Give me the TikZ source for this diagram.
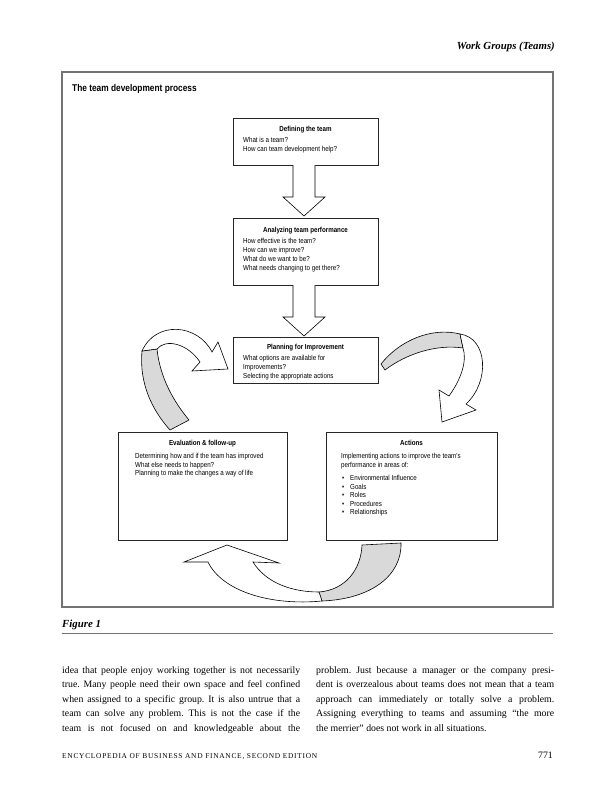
\documentclass[tikz,border=0pt]{standalone}
\usepackage{fontspec}
\setmainfont{Liberation Serif}
\newfontfamily\cond[FakeStretch=0.85]{Liberation Sans}
\newfontfamily\footfont[LetterSpace=10]{Liberation Serif}
\definecolor{framegray}{gray}{0.45}
\definecolor{bandgray}{gray}{0.85}
\frenchspacing
\begin{document}
\begin{tikzpicture}[x=1pt,y=-1pt,
  box/.style={draw=black!85, line width=0.9pt, anchor=north west, inner sep=0pt},
  ttl/.style={font=\cond\bfseries\fontsize{7.3}{9}\selectfont, anchor=base, inner sep=0pt},
  txt/.style={font=\cond\fontsize{7.3}{9}\selectfont, anchor=base west, inner sep=0pt},
  blk/.style={draw=black, line width=0.6pt, fill=white, line join=miter},
  band/.style={draw=black, line width=0.6pt, fill=bandgray},
  body/.style={anchor=north west, inner sep=0pt, font=\fontsize{9.8}{14.5}\selectfont}]
\useasboundingbox (0,0) rectangle (610,800);
\fill[white] (0,0) rectangle (610,800);

% header
\node[anchor=base east, inner sep=0pt, font=\bfseries\itshape\fontsize{10.8}{12}\selectfont] (hdr) at (555,49) {Work Groups (Teams)};

% frame
\draw[framegray, line width=1.2pt] (62,72) rectangle (553,607);
\node[anchor=base west, inner sep=0pt, font=\cond\bfseries\fontsize{9.8}{11}\selectfont] (title) at (72,92) {The team development process};

% boxes
\node[box, minimum width=145pt, minimum height=47pt] (b1) at (233,118) {};
\node[box, minimum width=145pt, minimum height=67pt] (b2) at (233,218) {};
\node[box, minimum width=145pt, minimum height=46pt] (b3) at (233,337) {};
\node[box, minimum width=169pt, minimum height=108pt] (bl) at (118,432) {};
\node[box, minimum width=171pt, minimum height=108pt] (br) at (326,432) {};

% box 1 text
\node[ttl] (t1) at (305.5,131) {Defining the team};
\node[txt] (t1a) at (243,142) {What is a team?};
\node[txt] (t1b) at (243,151.5) {How can team development help?};
% box 2 text
\node[ttl] (t2) at (305.5,232) {Analyzing team performance};
\node[txt] (t2a) at (243,243) {How effective is the team?};
\node[txt] (t2b) at (243,252) {How can we improve?};
\node[txt] (t2c) at (243,261) {What do we want to be?};
\node[txt] (t2d) at (243,270) {What needs changing to get there?};
% box 3 text
\node[ttl] (t3) at (305.5,349) {Planning for Improvement};
\node[txt] (t3a) at (243,360) {What options are available for};
\node[txt] (t3b) at (243,369) {Improvements?};
\node[txt] (t3c) at (243,378) {Selecting the appropriate actions};
% left box text
\node[ttl] (tl) at (202.5,445) {Evaluation \& follow-up};
\node[txt] (tla) at (135,458) {Determining how and if the team has improved};
\node[txt] (tlb) at (135,467) {What else needs to happen?};
\node[txt] (tlc) at (135,475.5) {Planning to make the changes a way of life};
% right box text
\node[ttl] (tr) at (411.5,445) {Actions};
\node[txt] (tra) at (341,458) {Implementing actions to improve the team's};
\node[txt] (trb) at (341,467) {performance in areas of:};
\foreach \y/\w [count=\i] in {480/Environmental Influence,489/Goals,497.5/Roles,506/Procedures,514.5/Relationships}{
  \node[txt] (bu\i) at (342,\y) {\textbullet};
  \node[txt] (bt\i) at (350,\y) {\w};
}

% straight block arrows
\draw[blk] (293,165) -- (293,197) -- (283,197) -- (304,216) -- (325,197) -- (315,197) -- (315,165);
\draw[blk] (293,285) -- (293,317) -- (283,317) -- (304,336) -- (325,317) -- (315,317) -- (315,285);

% left curved arrow (evaluation -> planning)
\draw[band] (142,351) .. controls (139,383) and (152,410) .. (170,430) -- (189,420)
   .. controls (174,402) and (160,378) .. (157,349) -- cycle;
\draw[blk] (142,351) .. controls (156,320) and (198,324) .. (212,352) -- (218,342) -- (228,369)
   -- (192,371) -- (200,362) .. controls (188,344) and (166,338) .. (157,349) -- cycle;

% right curved arrow (planning -> actions)
\draw[band] (381,364) .. controls (400,340) and (432,327) .. (460,334) -- (463,348)
   .. controls (436,344) and (406,354) .. (385,370) -- cycle;
\draw[blk] (460,334) .. controls (488,338) and (490,382) .. (466,404) -- (476,410) -- (442,422)
   -- (439,390) -- (449,396) .. controls (462,378) and (467,360) .. (463,348) -- cycle;

% bottom curved arrow (actions -> evaluation)
\draw[band] (322,601) .. controls (372,599) and (402,575) .. (401,543) -- (362,545)
   .. controls (361,570) and (345,590) .. (319,592) -- cycle;
\draw[blk] (319,592) .. controls (292,592) and (266,583) .. (253,562) -- (279,563) -- (227,545)
   -- (184,562) -- (208,562) .. controls (222,591) and (270,606) .. (322,601) -- cycle;

% figure caption
\node[anchor=base west, inner sep=0pt, font=\bfseries\itshape\fontsize{10.8}{12}\selectfont] (fig) at (62,627) {Figure 1};
\draw[framegray, line width=0.8pt] (62,633) -- (553,633);

% body text
\node[body] (colL) at (62,666) {\parbox[t]{238pt}{\setlength{\parfillskip}{0pt}idea that people enjoy working together is not necessarily\linebreak
true. Many people need their own space and feel confined\linebreak
when assigned to a specific group. It is also untrue that a\linebreak
team can solve any problem. This is not the case if the\linebreak
team is not focused on and knowledgeable about the}};
\node[body] (colR) at (316,666) {\parbox[t]{238pt}{problem. Just because a manager or the company presi-\linebreak
dent is overzealous about teams does not mean that a team\linebreak
approach can immediately or totally solve a problem.\linebreak
Assigning everything to teams and assuming ``the more\linebreak
the merrier'' does not work in all situations.}};

% footer
\node[anchor=base west, inner sep=0pt, font=\footfont\fontsize{7.4}{8}\selectfont] (foot) at (62,758) {ENCYCLOPEDIA OF BUSINESS AND FINANCE, SECOND EDITION};
\node[anchor=base east, inner sep=0pt, font=\fontsize{9.8}{11}\selectfont] (pg) at (553,758) {771};
\end{tikzpicture}
\end{document}
